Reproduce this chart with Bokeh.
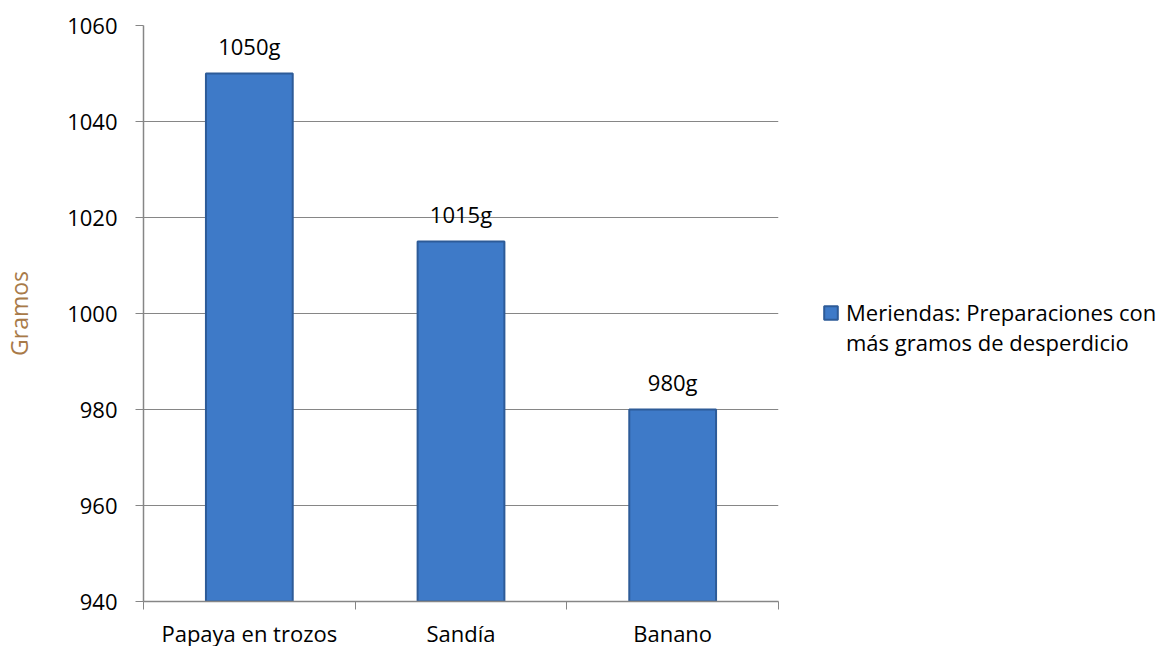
from bokeh.plotting import figure
from bokeh.models import (ColumnDataSource, FixedTicker, LabelSet, Legend, LegendItem,
                          Range1d)
from bokeh.core.properties import value
from bokeh.embed import file_html
from bokeh.resources import INLINE

categories = ["Papaya en trozos", "Sandía", "Banano"]
values = [1050, 1015, 980]
value_labels = ["1050g", "1015g", "980g"]
y_ticks = [940, 960, 980, 1000, 1020, 1040, 1060]
series_name = "Meriendas: Preparaciones con\nmás gramos de desperdicio"

FONT = "Open Sans"
x_pos = [i + 0.5 for i in range(len(categories))]
src = ColumnDataSource(dict(x=x_pos, top=values, lab=value_labels))

p = figure(frame_width=635, frame_height=576, output_backend="svg", toolbar_location=None,
           x_range=Range1d(0, len(categories)), y_range=Range1d(940, 1060),
           min_border_left=143, min_border_top=25, min_border_bottom=44, min_border_right=394,
           background_fill_color="white", border_fill_color="white", outline_line_color=None)

r = p.vbar(x="x", top="top", bottom=940, width=0.41, source=src,
           fill_color="#3e7ac8", line_color="#2d5b98", line_width=2)

p.add_layout(LabelSet(x="x", y="top", text="lab", source=src, y_offset=19,
                      text_align="center", text_baseline="alphabetic",
                      text_font=value(FONT), text_font_size="22px", text_color="black"))

# axes
p.xaxis.ticker = FixedTicker(ticks=x_pos, minor_ticks=list(range(len(categories) + 1)))
p.xaxis.major_label_overrides = {x: c for x, c in zip(x_pos, categories)}
p.xaxis.major_tick_out = 0
p.xaxis.major_tick_in = 0
p.xaxis.minor_tick_out = 8
p.xaxis.minor_tick_in = 0
p.xaxis.minor_tick_line_color = "#868686"
p.yaxis.ticker = FixedTicker(ticks=y_ticks)
p.yaxis.minor_tick_line_color = None
p.yaxis.major_tick_out = 8
p.yaxis.major_tick_in = 0
for ax in (p.xaxis, p.yaxis):
    ax.axis_line_color = "#868686"
    ax.axis_line_width = 1.5
    ax.major_tick_line_color = "#868686"
    ax.major_label_text_font = FONT
    ax.major_label_text_font_size = "22px"
    ax.major_label_text_color = "black"
p.xaxis.major_label_standoff = 8
p.yaxis.major_label_standoff = 18
p.yaxis.axis_label = "Gramos"
p.yaxis.axis_label_text_font = FONT
p.yaxis.axis_label_text_font_size = "23px"
p.yaxis.axis_label_text_font_style = "normal"
p.yaxis.axis_label_text_color = "#a87a48"
p.yaxis.axis_label_standoff = 29

p.xgrid.grid_line_color = None
p.ygrid.ticker = FixedTicker(ticks=y_ticks)
p.ygrid.grid_line_color = "#868686"

lines = series_name.split("\n")
items = [LegendItem(label=lines[0], renderers=[r])] + \
        [LegendItem(label=t, renderers=[]) for t in lines[1:]]
legend = Legend(items=items,
                location=(44, 244), border_line_color=None, background_fill_alpha=0,
                label_text_font=FONT, label_text_font_size="22px", label_text_color="black",
                glyph_width=17, glyph_height=17, label_standoff=7,
                padding=0, margin=0, spacing=-5)
p.add_layout(legend, "right")

open("out.html", "w").write(file_html(p, INLINE))
